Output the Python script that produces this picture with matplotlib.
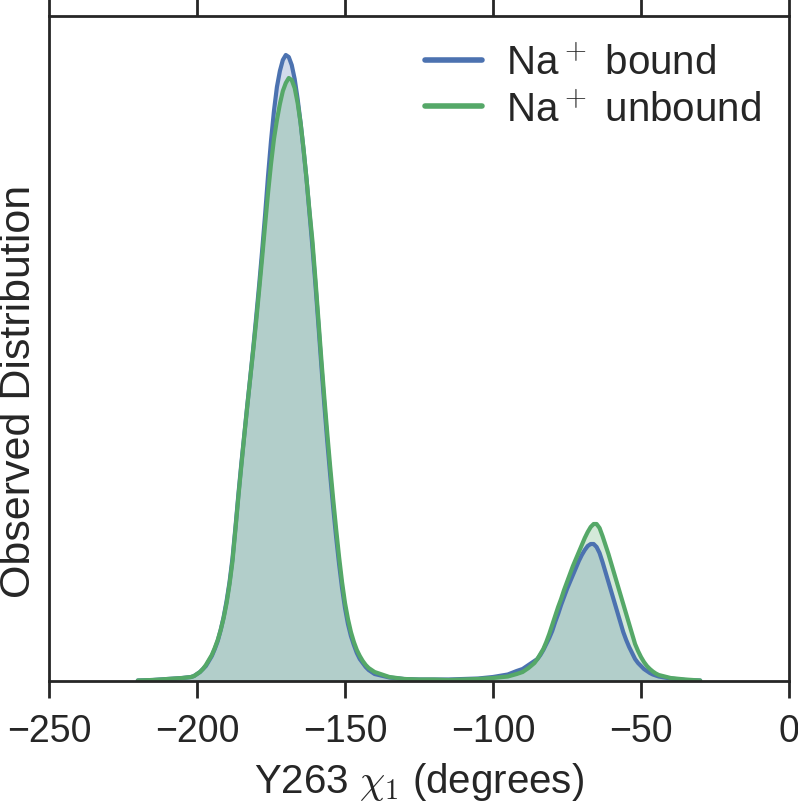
import matplotlib
matplotlib.use("Agg")
import matplotlib.pyplot as plt

# Angle grid (degrees) and observed distributions (arbitrary units)
chi1_deg = [-220, -215, -210, -205,
            -202, -201, -200, -199, -198, -197, -196, -195, -194, -193, -192, -191,
            -190, -189, -188, -187, -186, -185, -184, -183, -182, -181, -180, -179,
            -178, -177, -176, -175, -174, -173, -172, -171, -170, -169, -168, -167,
            -166, -165, -164, -163, -162, -161, -160, -159, -158, -157, -156, -155,
            -154, -153, -152, -151, -150, -149, -148, -147, -146, -145, -144, -143,
            -142, -141, -140,
            -135, -130, -125, -120, -115, -110, -105, -100, -95, -92, -90, -88,
            -86, -85, -84, -83, -82, -81, -80, -79, -78, -77, -76, -75, -74, -73,
            -72, -71, -70, -69, -68, -67, -66, -65, -64, -63, -62, -61, -60, -59,
            -58, -57, -56, -55, -54, -53, -52, -51, -50, -49, -48, -47, -46, -45,
            -44,
            -42, -40, -35, -30]

bound_density = [0.5, 1, 2, 3,
                 4, 5, 7, 9, 12, 15, 20, 25, 32, 40, 51, 64,
                 80, 99, 123, 154, 187, 218, 247, 276, 304, 333, 364, 396,
                 430, 466, 505, 540, 570, 594, 610, 621, 626, 624, 616, 602,
                 582, 558, 531, 502, 468, 434, 397, 357, 316, 277, 240, 206,
                 174, 144, 117, 93, 73, 57, 45, 36, 28, 22, 18, 14,
                 11, 9, 7,
                 3.5, 2, 1.5, 1.5, 1.5, 2, 2.5, 4, 6.5, 10, 12, 16,
                 20, 22, 26, 31, 37, 43, 50, 59, 67, 76, 84, 92, 99, 106,
                 113, 120, 126, 131, 135, 137, 137, 134, 128, 119, 109, 99, 89, 79,
                 69, 59, 49, 41, 34, 28, 22, 18, 15, 12, 10, 8, 6.5, 5.5,
                 4.5,
                 3.5, 2.5, 1, 0.5]

unbound_density = [0.5, 1, 2, 3,
                   4, 5, 7, 9, 12, 16, 21, 26, 33, 41, 51, 63,
                   78, 97, 120, 152, 185, 216, 246, 275, 303, 331, 360, 391,
                   423, 456, 488, 517, 542, 561, 577, 590, 598, 603, 601, 593,
                   578, 558, 532, 502, 470, 440, 402, 362, 322, 284, 248, 214,
                   182, 152, 124, 99, 78, 62, 49, 39, 31, 25, 20, 16,
                   13, 11, 9,
                   4, 2, 1.5, 1.5, 1, 1.5, 2, 3, 4.5, 7, 9, 13,
                   18, 22, 27, 32, 39, 47, 56, 65, 74, 82, 91, 99, 107, 115,
                   122, 129, 136, 143, 149, 154, 157, 157, 153, 145, 136, 127, 117, 107,
                   97, 87, 77, 67, 57, 47, 37, 30, 24, 19, 15, 12, 9.5, 7.5,
                   6,
                   4.5, 3, 1.5, 0.5]

series_labels = [r"Na$^+$ bound", r"Na$^+$ unbound"]
x_ticks = [-250, -200, -150, -100, -50, 0]

colors = ["#4C72B0", "#55A868"]
dark = "#262626"

plt.rcParams["font.family"] = ["Liberation Sans", "DejaVu Sans"]
plt.rcParams["mathtext.fontset"] = "cm"
plt.rcParams["text.color"] = dark
plt.rcParams["axes.labelcolor"] = dark
plt.rcParams["xtick.color"] = dark

fig = plt.figure(figsize=(7.98, 8.03), dpi=100)
ax = fig.add_axes([49 / 798, 1 - 682 / 803, (789 - 49) / 798, (682 - 17) / 803])

for dens, col, lab in zip([bound_density, unbound_density], colors, series_labels):
    ax.fill_between(chi1_deg, 0, dens, color=col, alpha=0.25, linewidth=0)
    ax.plot(chi1_deg, dens, color=col, lw=3, label=lab,
            solid_capstyle="round", solid_joinstyle="round")

ax.set_xlim(-250, 0)
ax.set_ylim(0, 665)
ax.set_xticks(x_ticks)
ax.set_xticklabels([str(t).replace("-", "\u2212") for t in x_ticks])
ax.set_yticks([])
ax.tick_params(axis="x", which="both", direction="out", length=12, width=2,
               labelsize=27, pad=11, top=True, labeltop=False)
for sp in ax.spines.values():
    sp.set_linewidth(2)
    sp.set_color(dark)

ax.set_xlabel(r"Y263 $\chi_1$ (degrees)", fontsize=29, labelpad=8)
ax.set_ylabel("Observed Distribution", fontsize=31)
ax.yaxis.set_label_coords(-0.013, 0.437)

leg = ax.legend(loc="upper right", frameon=False, fontsize=29, handlelength=1.4,
                labelspacing=0.2, handletextpad=0.6, borderaxespad=0.3)
for line in leg.get_lines():
    line.set_linewidth(4)

fig.savefig("out.png", dpi=100)
